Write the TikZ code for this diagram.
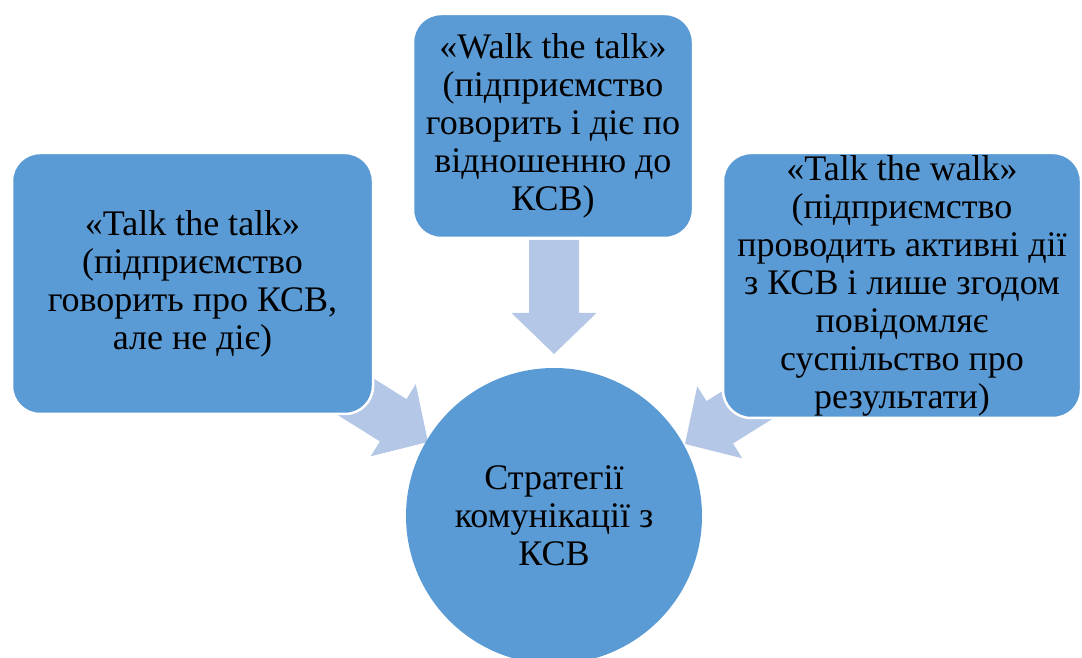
\documentclass[tikz,border=0pt]{standalone}
\usepackage{fontspec}
\setmainfont{LiberationSerif}[Extension=.ttf, UprightFont=*-Regular, BoldFont=*-Bold]
\definecolor{boxblue}{HTML}{5B9BD5}
\definecolor{arrowblue}{HTML}{B4C7E7}
\tikzset{
  stratbox/.style={draw=white, line width=2.5pt, fill=boxblue, rounded corners=28pt,
    align=center, inner sep=0pt, font=\fontsize{36}{38}\selectfont},
  stratcircle/.style={circle, fill=boxblue, inner sep=0pt, align=center,
    font=\fontsize{36}{38}\selectfont},
  blockarrow/.pic={\fill[arrowblue] (-114,25) -- (-41,25) -- (-41,42.5) -- (0,0)
    -- (-41,-42.5) -- (-41,-25) -- (-114,-25) -- cycle;}
}
\begin{document}
\begin{tikzpicture}[x=1pt,y=1pt]
\useasboundingbox (0,0) rectangle (1082,658);
\coordinate (tipL) at (428,216);
\coordinate (tipT) at (554,304);
\coordinate (tipR) at (685,214);
\pic[rotate=-32] at (tipL) {blockarrow};
\pic[rotate=-90] at (tipT) {blockarrow};
\pic[rotate=-148] at (tipR) {blockarrow};
\node[stratbox, minimum width=361pt, minimum height=261pt] (left) at (192.5,374.5)
  {«Talk the talk»\\(підприємство\\говорить про КСВ,\\але не діє)};
\node[stratbox, minimum width=280pt, minimum height=224pt] (top) at (553,532)
  {«Walk the talk»\\(підприємство\\говорить і діє по\\відношенню до\\КСВ)};
\node[stratbox, minimum width=358pt, minimum height=265pt] (right) at (902,372.5)
  {«Talk the walk»\\(підприємство\\проводить активні дії\\з КСВ і лише згодом\\повідомляє\\суспільство про\\результати)};
\node[stratcircle, minimum size=296pt] (centre) at (554,142)
  {Стратегії\\комунікації з\\КСВ};
\end{tikzpicture}
\end{document}
